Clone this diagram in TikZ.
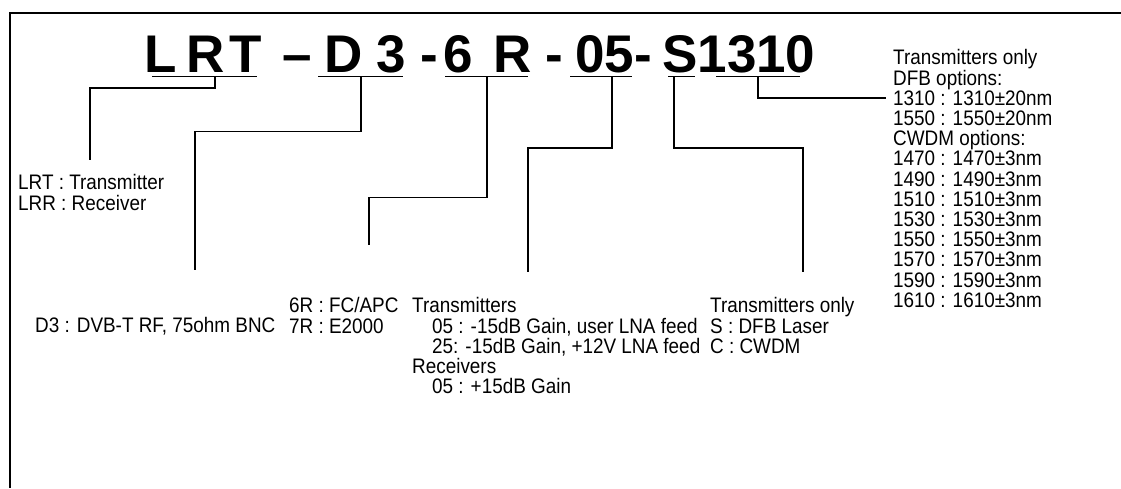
\documentclass[tikz,border=0pt]{standalone}
\usepackage{fontspec}
\setmainfont{Liberation Sans}
\newfontfamily\lblfont{Liberation Sans}[FakeStretch=0.9]
\begin{document}
\begin{tikzpicture}[x=1pt,y=-1pt,
  lbl/.style={anchor=north west, inner sep=0pt, align=left, font=\lblfont\fontsize{21}{20.2}\selectfont},
  big/.style={anchor=base west, inner sep=0pt, font=\fontsize{53}{60}\selectfont\bfseries},
  uline/.style={line width=1.2pt},
  conn/.style={line width=1.2pt},
  frameline/.style={line width=2.2pt}]
\useasboundingbox (0,0) rectangle (1121,488);
\draw[frameline] (1121,13) -- (10,13) -- (10,488);
% title
\node[big] (gL)  at (144,72) {L};
\node[big] (gR1) at (186,72) {R};
\node[big] (gT)  at (229,72) {T};
\node[big] (gd1) at (282,72) {–};
\node[big] (gD)  at (324,72) {D};
\node[big] (g3)  at (376,72) {3};
\node[big] (gd2) at (420,72) {-};
\node[big] (g6)  at (443,72) {6};
\node[big] (gR2) at (493,72) {R};
\node[big] (gd3) at (545,72) {-};
\node[big] (g05) at (575,72) {05-};
\node[big] (gS)  at (662,72) {S1310};
% underlines
\coordinate (u1a) at (152,76.5); \coordinate (u1b) at (257,76.5);
\coordinate (u2a) at (318,76.5); \coordinate (u2b) at (403,76.5);
\coordinate (u3a) at (445,76.5); \coordinate (u3b) at (528,76.5);
\coordinate (u4a) at (570,76.5); \coordinate (u4b) at (632,76.5);
\coordinate (u5a) at (668,76.5); \coordinate (u5b) at (695,76.5);
\coordinate (u6a) at (716,76.5); \coordinate (u6b) at (800,76.5);
\foreach \i in {1,...,6} \draw[uline] (u\i a) -- (u\i b);
% connector starts and ends
\coordinate (c1) at (215,76.5); \coordinate (e1) at (90,160);
\coordinate (c2) at (361,76.5); \coordinate (e2) at (195,270);
\coordinate (c3) at (487,76.5); \coordinate (e3) at (369,245);
\coordinate (c4) at (612,76.5); \coordinate (e4) at (528,272);
\coordinate (c5) at (674,76.5); \coordinate (e5) at (803,272);
\coordinate (c6) at (758,76.5); \coordinate (e6) at (886,98);
\draw[conn] (c1) -- ++(0,11.5) -| (e1);
\draw[conn] (c2) -- ++(0,55) -| (e2);
\draw[conn] (c3) -- ++(0,121) -| (e3);
\draw[conn] (c4) -- ++(0,71.5) -| (e4);
\draw[conn] (c5) -- ++(0,71.5) -| (e5);
\draw[conn] (c6) |- (e6);
% texts
\node[lbl] (tLRT) at (18,174.5) {LRT : Transmitter\\LRR : Receiver};
\node[lbl] (tD3) at (35,317.5) {D3 : DVB-T RF, 75ohm BNC};
\node[lbl] (tCon) at (289,297.5) {6R : FC/APC\\7R : E2000};
\node[lbl] (tGain) at (412,297.5) {Transmitters\\\hspace*{20pt}05 : -15dB Gain, user LNA feed\\\hspace*{20pt}25: -15dB Gain, +12V LNA feed\\Receivers\\\hspace*{20pt}05 : +15dB Gain};
\node[lbl] (tLas) at (710,297.5) {Transmitters only\\S : DFB Laser\\C : CWDM};
\node[lbl] (tWl) at (893,49.5) {Transmitters only\\DFB options:\\1310 : 1310±20nm\\1550 : 1550±20nm\\CWDM options:\\1470 : 1470±3nm\\1490 : 1490±3nm\\1510 : 1510±3nm\\1530 : 1530±3nm\\1550 : 1550±3nm\\1570 : 1570±3nm\\1590 : 1590±3nm\\1610 : 1610±3nm};
\end{tikzpicture}
\end{document}
